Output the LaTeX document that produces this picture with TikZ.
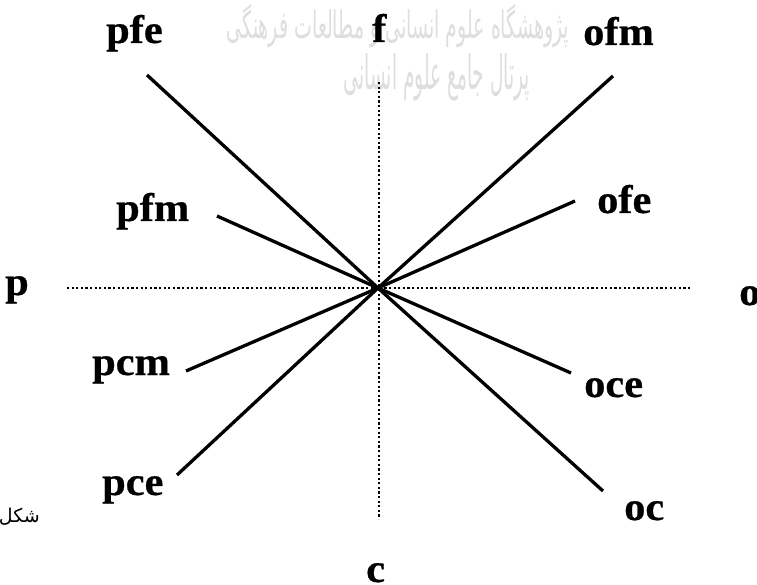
\documentclass[tikz,border=0pt]{standalone}
\usepackage{fontspec}
\usepackage{graphicx}
\setmainfont{Liberation Serif}
\newfontfamily\lblfont[FakeBold=0.6,FakeStretch=1.06]{Liberation Serif Bold}
\newfontfamily\arabicfont[Script=Arabic]{DejaVu Sans}
\TeXXeTstate=1
\begin{document}
\begin{tikzpicture}[x=1pt,y=-1pt,
  lbl/.style={anchor=base west,inner sep=0pt,font=\lblfont\fontsize{40}{40}\selectfont},
  ray/.style={line width=3.3pt},
  axis/.style={line width=2.8pt,dash pattern=on 2.2pt off 2.4pt},
  wm/.style={inner sep=0pt,text=black!13}]
\useasboundingbox (0,0) rectangle (757,585);
% watermark
\node[wm] (wm1) at (398,26) {\resizebox{342pt}{34pt}{\arabicfont\beginR پژوهشگاه علوم انسانی و مطالعات فرهنگی\endR}};
\node[wm] (wm2) at (437,77) {\resizebox{186pt}{36pt}{\arabicfont\beginR پرتال جامع علوم انسانی\endR}};
% caption fragment
\node[anchor=east,inner sep=0pt,font=\arabicfont\fontsize{19}{19}\selectfont] (cap) at (40,517) {\beginR شکل\endR};
% center
\coordinate (O) at (378,288);
% axes
\coordinate (ftop) at (379,82);
\coordinate (cbot) at (379,519);
\coordinate (pl) at (67,288);
\coordinate (or) at (692,288);
\draw[axis] (ftop) -- (cbot);
\draw[axis] (pl) -- (or);
% ray end points
\coordinate (epfe) at (147,75);
\coordinate (epfm) at (217,216);
\coordinate (eofm) at (613,76);
\coordinate (eofe) at (575,201);
\coordinate (epcm) at (186,371);
\coordinate (epce) at (177,475);
\coordinate (eoce) at (571,373);
\coordinate (eoc) at (603,491);
\foreach \e in {epfe,epfm,eofm,eofe,epcm,epce,eoce,eoc}
  \draw[ray] (\e) -- (O);
% labels
\node[lbl] (pfe) at (106,43) {pfe};
\node[lbl] (f) at (372,42) {f};
\node[lbl] (ofm) at (583,45) {ofm};
\node[lbl] (pfm) at (116,221) {pfm};
\node[lbl] (ofe) at (597,213) {ofe};
\node[lbl] (p) at (5,295) {p};
\node[lbl] (o) at (739,305) {o};
\node[lbl] (pcm) at (92,375) {pcm};
\node[lbl] (oce) at (584,397) {oce};
\node[lbl] (pce) at (102,495) {pce};
\node[lbl] (oc) at (624,520) {oc};
\node[lbl] (c) at (366,582) {c};
\end{tikzpicture}
\end{document}
